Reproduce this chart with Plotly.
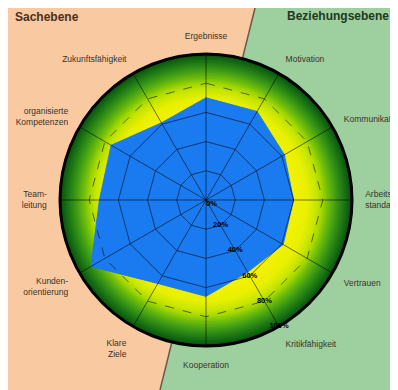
import numpy as np
import plotly.graph_objects as go

# Kategorien im Uhrzeigersinn, beginnend oben
categories = ["Ergebnisse", "Motivation", "Kommunikation", "Arbeits-<br>standards",
              "Vertrauen", "Kritikfähigkeit", "Kooperation", "Klare<br>Ziele",
              "Kunden-<br>orientierung", "Team-<br>leitung", "organisierte<br>Kompetenzen",
              "Zukunftsfähigkeit"]
values = [70, 70, 62, 60, 61, 57, 66, 66, 91, 73, 75, 61]

ring_ticks = [0, 20, 40, 60, 80, 100]
ring_labels = ["<b>0%</b>", "<b>20%</b>", "<b>40%</b>", "<b>60%</b>", "<b>80%</b>", "<b>100%</b>"]
label_axis = "Kritikfähigkeit"
solid_rings = [20, 40, 60]
dashed_rings = [80]

# Farbverlauf im Kreis (Radius, Farbe)
grad_stops = [(0, (242, 242, 0)), (62, (242, 242, 0)), (70, (232, 240, 0)),
              (76, (200, 230, 0)), (80, (165, 216, 0)), (84, (112, 190, 12)),
              (90, (58, 152, 22)), (96, (24, 112, 20)), (100, (10, 82, 15))]

# Seite wird mit 8px Rand (body margin) dargestellt
OFF = 8
W, H = 390, 382
angles = [i * 360 / len(categories) for i in range(len(categories))]


def px(x):
    return (x - OFF) / W


def py(y):
    return 1 - (y - OFF) / H


def grad_color(r):
    for (r0, c0), (r1, c1) in zip(grad_stops[:-1], grad_stops[1:]):
        if r0 <= r <= r1:
            t = (r - r0) / (r1 - r0) if r1 > r0 else 0
            c = [int(a + (b - a) * t) for a, b in zip(c0, c1)]
            return f"rgb({c[0]},{c[1]},{c[2]})"
    return "rgb(10,82,15)"


fig = go.Figure()

# Hintergrund-Verlauf: Scheiben von außen nach innen
circle_theta = np.linspace(0, 360, 361)
for r in np.arange(100, 49, -1):
    fig.add_trace(go.Scatterpolar(
        r=np.full(361, r), theta=circle_theta, mode="lines", fill="toself",
        fillcolor=grad_color(r), line=dict(width=0), hoverinfo="skip", showlegend=False))

# Datenfläche
fig.add_trace(go.Scatterpolar(
    r=values + values[:1], theta=angles + angles[:1], mode="lines", fill="toself",
    fillcolor="#1a7af0", line=dict(color="#1a7af0", width=1), showlegend=False))

# Gitternetz (Polygone und Speichen)
for rv in solid_rings + dashed_rings:
    fig.add_trace(go.Scatterpolar(
        r=[rv] * (len(angles) + 1), theta=angles + angles[:1], mode="lines",
        line=dict(color="rgba(0,0,0,0.55)", width=1,
                  dash="dash" if rv in dashed_rings else "solid"),
        hoverinfo="skip", showlegend=False))
for a in angles:
    fig.add_trace(go.Scatterpolar(
        r=[0, 100], theta=[a, a], mode="lines",
        line=dict(color="rgba(0,0,0,0.55)", width=1), hoverinfo="skip", showlegend=False))

# Prozent-Beschriftung entlang der Achse "Kritikfähigkeit"
lab_theta = angles[categories.index(label_axis)]
fig.add_trace(go.Scatterpolar(
    r=ring_ticks, theta=[lab_theta] * len(ring_ticks), mode="text", text=ring_labels,
    textposition=["bottom right"] + ["middle center"] * (len(ring_ticks) - 1),
    textfont=dict(size=7.5, color="black", family="Liberation Sans"),
    cliponaxis=False, hoverinfo="skip", showlegend=False))

# Hintergrundflächen Sach-/Beziehungsebene
x_top, x_bot = px(255), px(160)
fig.add_shape(type="path", xref="paper", yref="paper", layer="below",
              path=f"M 0,1 L {x_top},1 L {x_bot},0 L 0,0 Z",
              fillcolor="#f9c9a2", line=dict(width=0))
fig.add_shape(type="path", xref="paper", yref="paper", layer="below",
              path=f"M {x_top},1 L 1,1 L 1,0 L {x_bot},0 Z",
              fillcolor="#9ecf9e", line=dict(width=0))
fig.add_shape(type="line", xref="paper", yref="paper", layer="below",
              x0=x_top, y0=1, x1=x_bot, y1=0, line=dict(color="#6a5a48", width=1.5))

fig.add_annotation(text="<b>Sachebene</b>", x=px(13), y=py(17), xref="paper", yref="paper",
                   xanchor="left", yanchor="middle", showarrow=False,
                   font=dict(size=12, color="#4a3020", family="Liberation Sans"))
fig.add_annotation(text="<b>Beziehungsebene</b>", x=px(285), y=py(16), xref="paper", yref="paper",
                   xanchor="left", yanchor="middle", showarrow=False,
                   font=dict(size=12, color="#203a20", family="Liberation Sans"))

fig.update_layout(
    width=W, height=H,
    margin=dict(l=0, r=0, t=0, b=0),
    paper_bgcolor="white",
    plot_bgcolor="rgba(0,0,0,0)",
    showlegend=False,
    font=dict(family="Liberation Sans", size=9, color="#3a3428"),
    polar=dict(
        domain=dict(x=[px(60), px(352)], y=[py(346), py(54)]),
        bgcolor="rgba(0,0,0,0)",
        gridshape="circular",
        angularaxis=dict(
            rotation=90, direction="clockwise", tickmode="array",
            tickvals=angles, ticktext=categories,
            showgrid=False, showline=True, linecolor="black", linewidth=3,
            ticks="outside", ticklen=10, tickcolor="rgba(0,0,0,0)",
            layer="above traces", tickfont=dict(size=8.5, color="#3a3428")),
        radialaxis=dict(
            range=[0, 100], showticklabels=False, showgrid=False, showline=False,
            ticks=""),
    ),
)

fig.write_html("out.html")
